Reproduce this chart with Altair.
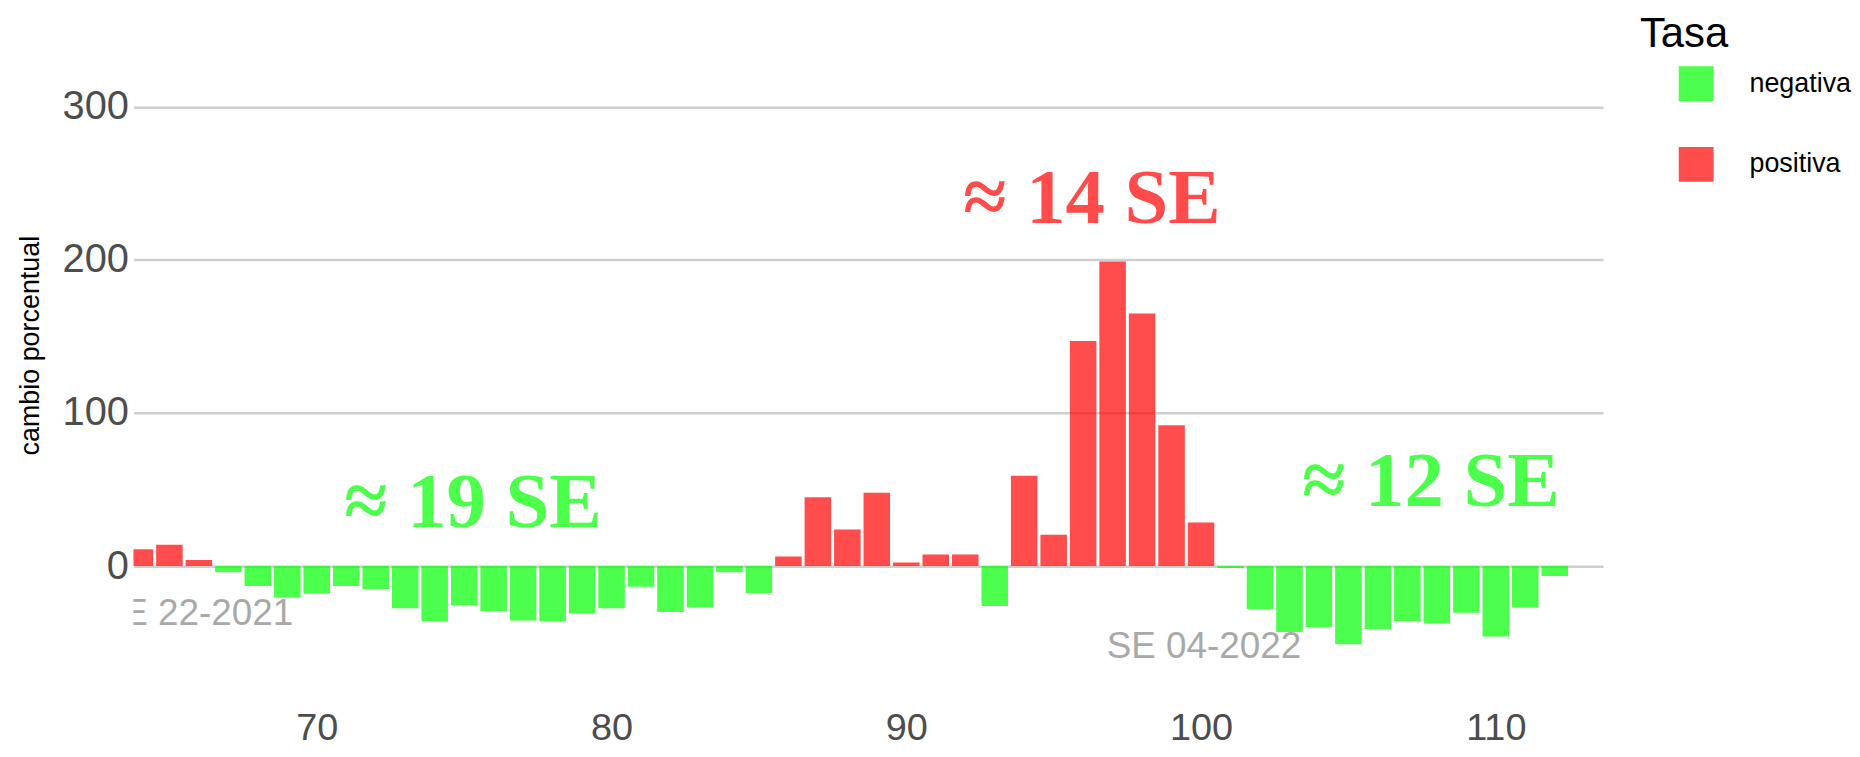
import altair as alt
import pandas as pd

# ---- data ----
semanas = list(range(64, 113))
cambio = [11, 14, 4, -4, -13, -20.5, -18, -13, -15, -27.5,
          -36, -25.5, -29.5, -35.5, -36, -31, -27.5, -13.5, -30, -27,
          -4, -17.5, 6.3, 45, 24, 48, 2.4, 7.6, 7.6, -26,
          59, 20.5, 147, 199, 165, 92, 28.5, -1.3, -28, -43,
          -40, -51, -41, -36, -37.5, -30.5, -46, -27, -6.5]
tasa = ["positiva" if v > 0 else "negativa" for v in cambio]

anot_texto = ["\u2248 19 SE", "\u2248 14 SE", "\u2248 12 SE"]
anot_x = [75.3, 96.3, 107.8]
anot_y = [25.4, 224, 39.0]
anot_tasa = ["negativa", "positiva", "negativa"]

ref_texto = ["SE 22-2021", "SE 04-2022"]
ref_x = [65.9, 100.1]
ref_y = [-38.6, -59.7]

x_ticks = [70, 80, 90, 100, 110]
y_ticks = [0, 100, 200, 300]

df = pd.DataFrame({"semana": semanas, "cambio": cambio, "Tasa": tasa})
df["x0"] = df["semana"] - 0.45
df["x1"] = df["semana"] + 0.45
df_anot = pd.DataFrame({"texto": anot_texto, "x": anot_x, "y": anot_y, "Tasa": anot_tasa})
df_ref = pd.DataFrame({"texto": ref_texto, "x": ref_x, "y": ref_y})

SANS = "Liberation Sans Narrow, Liberation Sans, Arial"

xscale = alt.Scale(domain=[63.78, 113.64], nice=False, zero=False)
yscale = alt.Scale(domain=[-95, 318], nice=False, zero=False)
cscale = alt.Scale(domain=["negativa", "positiva"], range=["#00ff00", "#ff0000"])

xaxis = alt.Axis(values=x_ticks, title=None, grid=False, ticks=False, domain=False,
                 labelFont=SANS, labelFontSize=38, labelColor="#4d4d4d", labelPadding=-2)
yaxis = alt.Axis(values=y_ticks, title="cambio porcentual", grid=True, ticks=False, domain=False,
                 gridColor="#cfcfcf", gridWidth=2.5,
                 labelFont=SANS, labelFontSize=40, labelColor="#4d4d4d", labelPadding=5,
                 titleFont="Liberation Sans", titleFontSize=27, titleFontWeight="normal",
                 titleColor="#000000", titleX=-103, titleY=267, titleAngle=270,
                 titleAlign="center", titleBaseline="middle")

legend = alt.Legend(orient="none", legendX=1513, legendY=-65, title="Tasa",
                    titleFont=SANS, titleFontSize=42, titleFontWeight="normal", titleColor="#000000",
                    labelFont=SANS, labelFontSize=27, labelColor="#000000",
                    symbolType="square", symbolSize=1225, symbolStrokeWidth=0, symbolOpacity=0.7,
                    symbolOffset=39, labelOffset=36, rowPadding=46, titlePadding=10, padding=0)

bars = alt.Chart(df).mark_rect(opacity=0.7, clip=True).encode(
    x=alt.X("x0:Q", scale=xscale, axis=xaxis),
    x2="x1:Q",
    y=alt.Y("cambio:Q", scale=yscale, axis=yaxis),
    y2=alt.datum(0),
    color=alt.Color("Tasa:N", scale=cscale, legend=legend),
)

refs = alt.Chart(df_ref).mark_text(font=SANS, fontSize=37, color="#a9a9a9",
                                    baseline="alphabetic", align="center", clip=True).encode(
    x=alt.X("x:Q", scale=xscale),
    y=alt.Y("y:Q", scale=yscale),
    text="texto:N",
)

anots = alt.Chart(df_anot).mark_text(font="Liberation Serif", fontSize=79, fontWeight="bold",
                                      opacity=0.7, baseline="alphabetic", align="center").encode(
    x=alt.X("x:Q", scale=xscale),
    y=alt.Y("y:Q", scale=yscale),
    text="texto:N",
    color=alt.Color("Tasa:N", scale=cscale, legend=legend),
)

chart = alt.layer(refs, bars, anots).properties(
    width=1476, height=635,
    autosize=alt.AutoSizeParams(type="none"),
    padding={"left": 126, "top": 70, "right": 250, "bottom": 36},
).configure_view(stroke=None)

chart.save("out.html", embed_options={"renderer": "svg", "actions": False})
